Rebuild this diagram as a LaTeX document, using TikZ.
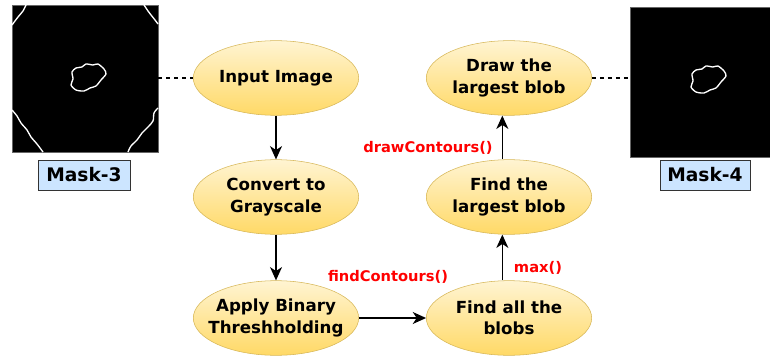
\documentclass[tikz,border=0pt]{standalone}
\usepackage{fontspec}
\setmainfont{DejaVu Sans}
\usetikzlibrary{arrows.meta,positioning,shapes.geometric}
\definecolor{procTop}{HTML}{FFF4D2}
\definecolor{procBot}{HTML}{FFD966}
\definecolor{procLine}{HTML}{D6B656}
\definecolor{maskFill}{HTML}{CCE5FF}
\definecolor{fnRed}{HTML}{FF0000}

\begin{document}
\begin{tikzpicture}[x=0.75pt,y=-0.75pt,
  proc/.style={ellipse, draw=procLine, top color=procTop, bottom color=procBot,
               minimum width=124pt, minimum height=56pt, inner xsep=-12pt,
               inner ysep=0pt, align=center,
               font=\fontsize{12.5}{16}\selectfont\bfseries},
  fn/.style={text=fnRed, font=\fontsize{11}{13}\selectfont\bfseries},
  mask/.style={fill=black, draw=black!60, inner sep=0pt},
  mlbl/.style={draw=black!80, fill=maskFill, minimum width=69pt,
               minimum height=22.5pt, font=\fontsize{14}{16}\selectfont\bfseries},
  arr/.style={-{Stealth[length=10pt,width=9pt,inset=3pt]}, line width=1.1pt},
  link/.style={dash pattern=on 3pt off 3pt, line width=0.8pt},
  contour/.style={white, line width=1pt, line join=round},
  blob/.pic={\draw[contour] plot[smooth cycle, tension=0.45] coordinates
    {(-16,-6) (-12,-10) (-6,-11) (-2,-14) (5,-13) (10,-14) (16,-9)
     (18,-4) (13,2) (8,8) (2,10) (-4,13) (-12,12) (-17,7) (-15,1)};}
]
\useasboundingbox (0,0) rectangle (770,356);
% Masks
\node[mask, minimum width=109.5pt, minimum height=110pt] (m3) at (85,78.5) {};
\node[mask, minimum width=105pt, minimum height=112.5pt] (m4) at (700,82) {};
\pic at (88,78) {blob};
\pic at (708,80) {blob};
\draw[contour] plot[smooth] coordinates {(26,5) (23,11) (18,17) (12,25)};
\draw[contour] plot[smooth] coordinates {(144,5) (148,11) (151,15) (155,20) (158,24)};
\draw[contour] plot[smooth] coordinates {(12,110) (17,116) (21,123) (27,130)
  (31,137) (37,144) (43,152)};
\draw[contour] plot[smooth] coordinates {(158,108) (154,113) (153,121) (148,127)
  (142,133) (137,140) (131,146) (128,152)};
\node[mlbl] (l3) at (84,175) {Mask-3};
\node[mlbl, minimum width=67.5pt] (l4) at (705,175) {Mask-4};
% Steps
\node[proc] (input) at (276,78) {Input Image};
\node[proc] (gray) at (276,197) {Convert to\\Grayscale};
\node[proc] (thresh) at (276,318) {Apply Binary\\Threshholding};
\node[proc] (fall) at (509,318) {Find all the\\blobs};
\node[proc] (flarge) at (509,197) {Find the\\largest blob};
\node[proc] (dlarge) at (509,78) {Draw the\\largest blob};
% Functions
\node[fn] (fc) at (388,277) {findContours()};
\node[fn] (mx) at (538,268) {max()};
\node[fn] (dc) at (428,148) {drawContours()};
% Arrows
\draw[arr] (input) -- (gray);
\draw[arr] (gray) -- (thresh);
\draw[arr] (thresh) -- (fall);
\draw[arr] ([xshift=-5pt]fall.north) -- ([xshift=-5pt]flarge.south);
\draw[arr] ([xshift=-5pt]flarge.north) -- ([xshift=-5pt]dlarge.south);
% Links to masks
\draw[link] (m3.east |- input.west) -- (input.west);
\draw[link] (dlarge.east) -- (dlarge.east -| m4.west);
\end{tikzpicture}
\end{document}
